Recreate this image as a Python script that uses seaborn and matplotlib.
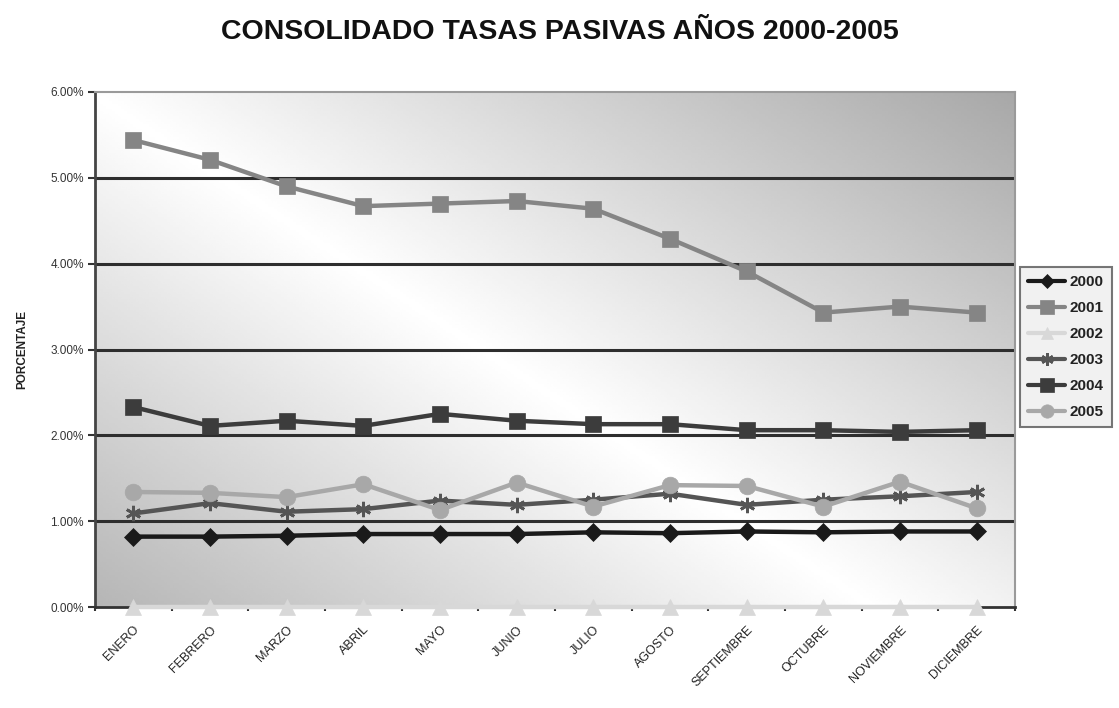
import numpy as np
import pandas as pd
import matplotlib
matplotlib.use("Agg")
import matplotlib.pyplot as plt
from matplotlib.lines import Line2D
import seaborn as sns

months = ["ENERO", "FEBRERO", "MARZO", "ABRIL", "MAYO", "JUNIO", "JULIO",
          "AGOSTO", "SEPTIEMBRE", "OCTUBRE", "NOVIEMBRE", "DICIEMBRE"]
years = ["2000", "2001", "2002", "2003", "2004", "2005"]

y2000 = [0.82, 0.82, 0.83, 0.85, 0.85, 0.85, 0.87, 0.86, 0.88, 0.87, 0.88, 0.88]
y2001 = [5.44, 5.21, 4.90, 4.67, 4.70, 4.73, 4.64, 4.29, 3.91, 3.43, 3.50, 3.43]
y2002 = [0.00, 0.00, 0.00, 0.00, 0.00, 0.00, 0.00, 0.00, 0.00, 0.00, 0.00, 0.00]
y2003 = [1.09, 1.21, 1.11, 1.14, 1.24, 1.19, 1.25, 1.32, 1.19, 1.25, 1.29, 1.34]
y2004 = [2.33, 2.11, 2.17, 2.11, 2.25, 2.17, 2.13, 2.13, 2.06, 2.06, 2.04, 2.06]
y2005 = [1.34, 1.33, 1.28, 1.43, 1.13, 1.45, 1.17, 1.42, 1.41, 1.17, 1.46, 1.15]
series = [y2000, y2001, y2002, y2003, y2004, y2005]

colors = ["#1a1a1a", "#858585", "#d8d8d8", "#555555", "#3c3c3c", "#a8a8a8"]
markers = ["D", "s", "^", (6, 2, 0), "s", "o"]
msizes = [9, 12, 11, 11, 12, 12]

sns.set_style("white")
plt.rcParams['font.family'] = ['Liberation Sans', 'DejaVu Sans']

fig = plt.figure(figsize=(11.19, 7.08), dpi=100)
ax = fig.add_axes([95/1119, 1-607/708, 920/1119, 515/708])

ax.set_xlim(-0.5, 11.5)
ax.set_ylim(0, 0.06)

# gradient background
nx, ny = 300, 200
gx = np.linspace(0, 1, nx)
gy = np.linspace(0, 1, ny)
GX, GY = np.meshgrid(gx, gy)
d = (GX - 0.42) * 1.0 + (GY - 0.5) * 0.85
bright = 1 - 0.34 * np.abs(d)
ax.imshow(bright, extent=[-0.5, 11.5, 0, 0.06], origin="lower", aspect="auto",
          cmap="gray", vmin=0, vmax=1, zorder=0)

for yv in [0.01, 0.02, 0.03, 0.04, 0.05]:
    ax.axhline(yv, color="#2e2e2e", lw=2.2, zorder=1)

xi = np.arange(len(months))
for yr, vals, c, m, ms in zip(years, series, colors, markers, msizes):
    df = pd.DataFrame({"x": xi, "v": np.array(vals) / 100.0})
    sns.lineplot(data=df, x="x", y="v", ax=ax, color=c, lw=3.2, marker=m,
                 markersize=ms, markeredgecolor=c,
                 markeredgewidth=2 if m == (6, 2, 0) else 0.5,
                 sort=False, zorder=3, legend=False, clip_on=False)

ax.set_xticks(xi)
ax.set_xticklabels(months, rotation=45, ha="right", rotation_mode="anchor",
                   fontsize=9, color="#222222")
ax.set_xticks(np.arange(-0.5, 12, 1), minor=True)
ax.tick_params(axis="x", which="major", length=0, pad=12)
ax.tick_params(axis="x", which="minor", length=3, color="#333333", width=1.5, bottom=True)
yt = [0, 0.01, 0.02, 0.03, 0.04, 0.05, 0.06]
ax.set_yticks(yt)
ax.set_yticklabels([f"{v*100:.2f}%" for v in yt], fontsize=8.5, color="#333333")
ax.tick_params(axis="y", length=5, width=1.5, color="#333333", left=True, pad=3)

ax.set_xlabel("")
ax.set_ylabel("PORCENTAJE", fontsize=8.5, fontweight="bold", color="#222222", labelpad=16)

for s in ["top", "right"]:
    ax.spines[s].set_color("#9a9a9a")
    ax.spines[s].set_linewidth(1.5)
ax.spines["left"].set_color("#444444")
ax.spines["left"].set_linewidth(2)
ax.spines["bottom"].set_color("#333333")
ax.spines["bottom"].set_linewidth(2)
for s in ax.spines.values():
    s.set_zorder(2)

fig.suptitle("CONSOLIDADO TASAS PASIVAS AÑOS 2000-2005", x=0.5, y=1-32/708, va="center",
             fontsize=20.5, fontweight="bold", color="#111111")

handles = [Line2D([0], [0], color=c, lw=3, marker=m, markersize=ms * 0.8,
                  markeredgecolor=c, markeredgewidth=2 if m == (6, 2, 0) else 0.5)
           for c, m, ms in zip(colors, markers, msizes)]
leg = fig.legend(handles, years, loc="upper left", bbox_to_anchor=(1020/1119, 1-267/708),
                 fontsize=11, frameon=True, fancybox=False, handlelength=2.4,
                 handletextpad=0.3, labelspacing=0.78, borderpad=0.55, borderaxespad=0)
leg.get_frame().set_edgecolor("#555555")
leg.get_frame().set_linewidth(1.5)
leg.get_frame().set_facecolor("#eeeeee")
for t in leg.get_texts():
    t.set_fontweight("bold")
    t.set_color("#222222")

fig.savefig("out.png", dpi=100)
